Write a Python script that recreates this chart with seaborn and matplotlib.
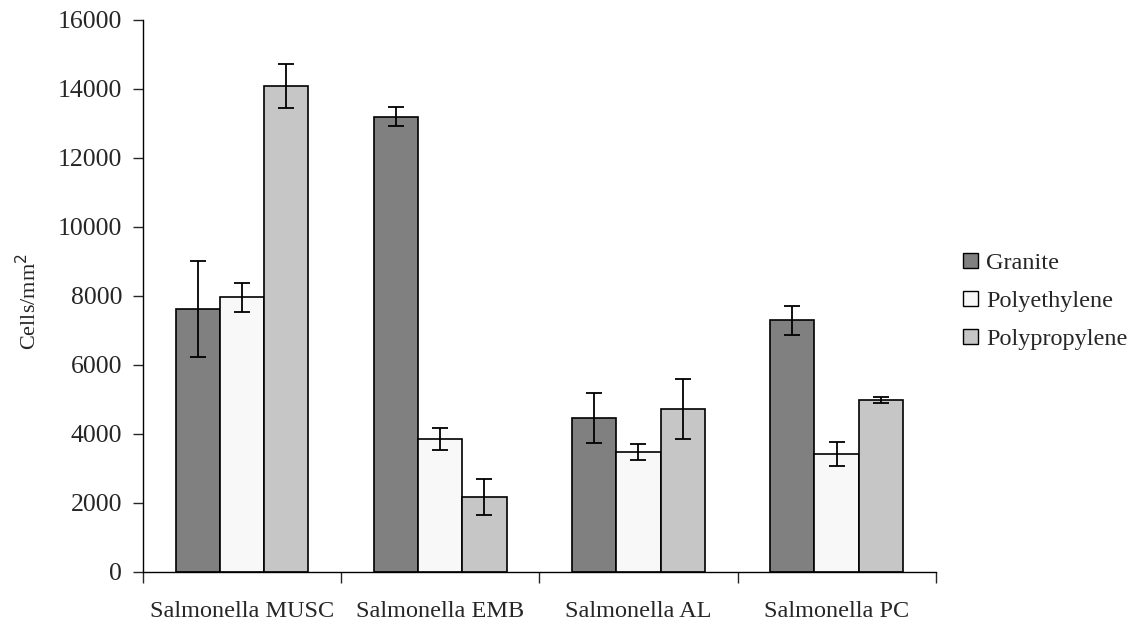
import numpy as np
import pandas as pd
import matplotlib
matplotlib.use("Agg")
import matplotlib.pyplot as plt
import seaborn as sns

strains = ["Salmonella MUSC", "Salmonella EMB", "Salmonella AL", "Salmonella PC"]
surfaces = ["Granite", "Polyethylene", "Polypropylene"]

granite = [7620, 13200, 4470, 7290]
polyethylene = [7960, 3850, 3470, 3420]
polypropylene = [14080, 2170, 4720, 4980]

granite_err = [1400, 280, 720, 430]
polyethylene_err = [420, 330, 240, 340]
polypropylene_err = [630, 530, 870, 90]

colors = ["#808080", "#f8f8f8", "#c6c6c6"]

rows = []
for surf, vals, errs in [("Granite", granite, granite_err),
                         ("Polyethylene", polyethylene, polyethylene_err),
                         ("Polypropylene", polypropylene, polypropylene_err)]:
    for s, v, e in zip(strains, vals, errs):
        rows.append({"Strain": s, "Surface": surf, "Cells": v, "Err": e})
df = pd.DataFrame(rows)

sns.set_style("white")
plt.rcParams["font.family"] = ["Liberation Serif", "DejaVu Serif"]

fig = plt.figure(figsize=(11.39, 6.23), dpi=100)
ax = fig.add_axes([0.1255, 0.082, 0.696, 0.886])

sns.barplot(data=df, x="Strain", y="Cells", hue="Surface", order=strains,
            hue_order=surfaces, palette=colors, width=0.67, gap=0,
            edgecolor="black", linewidth=1.2, errorbar=None, ax=ax)

# error bars at bar centres
for i, surf in enumerate(surfaces):
    container = ax.containers[i]
    sub = df[df["Surface"] == surf].set_index("Strain").loc[strains]
    xs = [p.get_x() + p.get_width() / 2 for p in container.patches]
    ax.errorbar(xs, sub["Cells"].values, yerr=sub["Err"].values, fmt="none",
                ecolor="black", elinewidth=1.3, capsize=6, capthick=1.3, zorder=5)

ax.set_xlim(-0.5, 3.5)
ax.set_ylim(0, 16000)
ax.set_yticks(np.arange(0, 16001, 2000))
ax.set_xlabel("")
ax.set_ylabel("Cells/mm$^2$", fontsize=16)
ax.yaxis.set_label_coords(-0.128, 0.49)

ax.set_xticks(range(len(strains)))
ax.set_xticklabels(strains, fontsize=17.5)
ax.set_xticks([-0.5, 0.5, 1.5, 2.5, 3.5], minor=True)
ax.tick_params(axis="x", which="major", length=0, pad=21)
ax.tick_params(axis="x", which="minor", length=8, width=1, direction="out", bottom=True)
ax.tick_params(axis="y", length=7, width=1, direction="out", left=True,
               labelsize=18.5, pad=8)

sns.despine(ax=ax, top=True, right=True)
ax.spines["left"].set_color("black")
ax.spines["bottom"].set_color("black")
ax.spines["left"].set_linewidth(1)
ax.spines["bottom"].set_linewidth(1)

leg = ax.legend(loc="center left", bbox_to_anchor=(1.007, 0.49), frameon=False,
                fontsize=17.5, handlelength=0.6, handleheight=0.6,
                handletextpad=0.35, labelspacing=0.68)
for h in leg.legend_handles:
    h.set_edgecolor("black")
    h.set_linewidth(1)

fig.savefig("out.png", dpi=100)
